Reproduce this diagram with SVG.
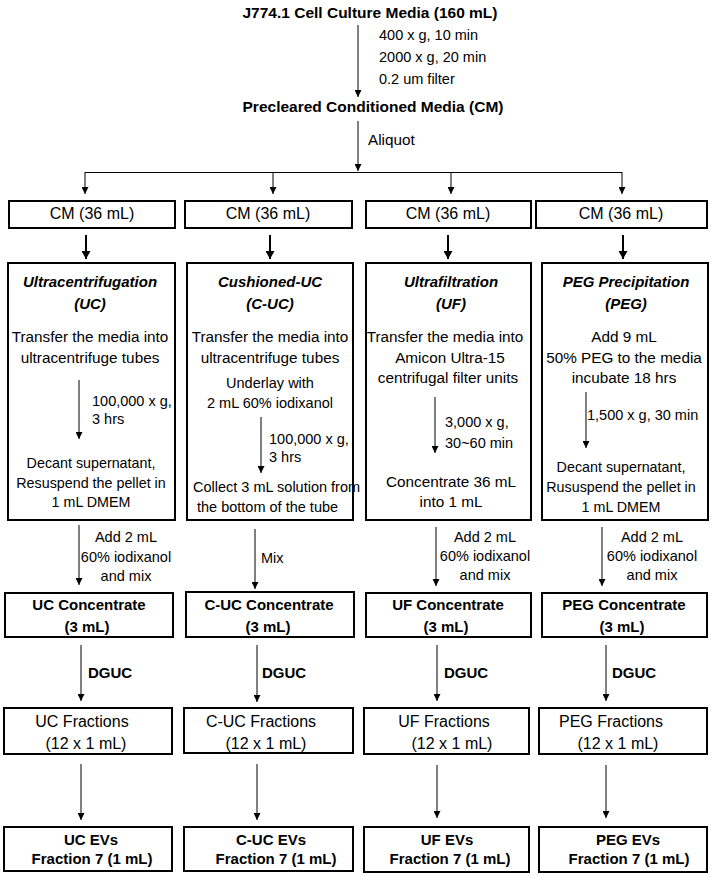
<svg xmlns="http://www.w3.org/2000/svg" width="714" height="875" viewBox="0 0 714 875">
<defs>
<marker id="ah" markerUnits="userSpaceOnUse" markerWidth="8" markerHeight="7" refX="7" refY="3.5" orient="auto"><path d="M0,0 L7,3.5 L0,7 z" fill="#000"/></marker>
<marker id="ahb" markerUnits="userSpaceOnUse" markerWidth="9" markerHeight="9" refX="8" refY="4.5" orient="auto"><path d="M0,0 L8,4.5 L0,9 z" fill="#000"/></marker>
<style>
text{font-family:"Liberation Sans",Arial,sans-serif;fill:#000}
.b{font-weight:bold}
.bi{font-weight:bold;font-style:italic;font-size:15px}
.t{font-size:14.5px}
.p{font-size:15.3px}
.s{font-size:14.3px}
.c{text-anchor:middle}
.box{fill:#fff;stroke:#000;stroke-width:2}
.ln{stroke:#000;stroke-width:1;fill:none}
.ar{stroke:#000;stroke-width:1;fill:none;marker-end:url(#ah)}
.arb{stroke:#000;stroke-width:2;fill:none;marker-end:url(#ahb)}
</style>
</defs>
<rect width="714" height="875" fill="#fff"/>

<g id="start">
<text class="b c" font-size="15.5" x="370" y="18">J774.1 Cell Culture Media (160 mL)</text>
</g>
<g id="cm">
<text class="b c" font-size="15.5" x="373" y="112">Precleared Conditioned Media (CM)</text>
</g>

<g id="cm1"><rect class="box" x="9" y="201" width="166" height="27"/><text class="c" font-size="16" x="92" y="219">CM (36 mL)</text></g>
<g id="cm2"><rect class="box" x="185" y="201" width="167" height="27"/><text class="c" font-size="16" x="268" y="219">CM (36 mL)</text></g>
<g id="cm3"><rect class="box" x="366" y="201" width="165" height="27"/><text class="c" font-size="16" x="448" y="219">CM (36 mL)</text></g>
<g id="cm4"><rect class="box" x="536" y="201" width="171" height="27"/><text class="c" font-size="16" x="621" y="219">CM (36 mL)</text></g>

<g id="uc">
<rect class="box" x="8" y="263" width="167" height="257"/>
<text class="bi c" x="90" y="287">Ultracentrifugation</text>
<text class="bi c" x="90" y="309">(UC)</text>
<text class="p c" x="90" y="342">Transfer the media into</text>
<text class="p c" x="90" y="363">ultracentrifuge tubes</text>
<text class="t" x="92" y="406">100,000 x g,</text>
<text class="t" x="92" y="424">3 hrs</text>
<text class="s c" x="91" y="468">Decant supernatant,</text>
<text class="s c" x="91" y="488">Resuspend the pellet in</text>
<text class="s c" x="91" y="507">1 mL DMEM</text>
</g>

<g id="cuc">
<rect class="box" x="187" y="263" width="166" height="257"/>
<text class="bi c" x="270" y="287">Cushioned-UC</text>
<text class="bi c" x="270" y="309">(C-UC)</text>
<text class="p c" x="270" y="342">Transfer the media into</text>
<text class="p c" x="270" y="363">ultracentrifuge tubes</text>
<text class="t c" x="270" y="388">Underlay with</text>
<text class="t c" x="270" y="408">2 mL 60% iodixanol</text>
<text class="t" x="269" y="444">100,000 x g,</text>
<text class="t" x="269" y="462">3 hrs</text>
<text class="t" x="193" y="492">Collect 3 mL solution from</text>
<text class="t" x="197" y="512">the bottom of the tube</text>
</g>

<g id="uf">
<rect class="box" x="366" y="263" width="165" height="257"/>
<text class="bi c" x="451" y="287">Ultrafiltration</text>
<text class="bi c" x="451" y="309">(UF)</text>
<text class="p c" x="445" y="342">Transfer the media into</text>
<text class="p c" x="450" y="363">Amicon Ultra-15</text>
<text class="p c" x="448" y="383">centrifugal filter units</text>
<text class="t" x="445" y="427">3,000 x g,</text>
<text class="t" x="445" y="448">30~60 min</text>
<text class="p c" x="451" y="487">Concentrate 36 mL</text>
<text class="p c" x="451" y="507">into 1 mL</text>
</g>

<g id="peg">
<rect class="box" x="542" y="263" width="166" height="257"/>
<text class="bi c" x="626" y="287">PEG Precipitation</text>
<text class="bi c" x="626" y="309">(PEG)</text>
<text class="p c" x="624" y="342">Add 9 mL</text>
<text class="p c" x="624" y="363">50% PEG to the media</text>
<text class="p c" x="624" y="383">incubate 18 hrs</text>
<text class="t" x="587" y="420">1,500 x g, 30 min</text>
<text class="s c" x="621" y="472">Decant supernatant,</text>
<text class="s c" x="621" y="492">Rususpend the pellet in</text>
<text class="s c" x="621" y="512">1 mL DMEM</text>
</g>

<g id="ucc"><rect class="box" x="5" y="593" width="168" height="44"/><text class="b c" font-size="15" x="89" y="610">UC Concentrate</text><text class="b c" font-size="15" x="87" y="632">(3 mL)</text></g>
<g id="cucc"><rect class="box" x="186" y="592" width="168" height="45"/><text class="b c" font-size="15" x="269" y="610">C-UC Concentrate</text><text class="b c" font-size="15" x="268" y="632">(3 mL)</text></g>
<g id="ufc"><rect class="box" x="366" y="593" width="165" height="44"/><text class="b c" font-size="15" x="448" y="610">UF Concentrate</text><text class="b c" font-size="15" x="446" y="632">(3 mL)</text></g>
<g id="pegc"><rect class="box" x="542" y="593" width="165" height="44"/><text class="b c" font-size="15" x="624" y="610">PEG Concentrate</text><text class="b c" font-size="15" x="622" y="632">(3 mL)</text></g>

<g id="ucf"><rect class="box" x="4" y="708" width="168" height="46"/><text class="c" font-size="16" x="82" y="727">UC Fractions</text><text class="c" font-size="16" x="86" y="749">(12 x 1 mL)</text></g>
<g id="cucf"><rect class="box" x="184" y="708" width="169" height="45"/><text class="c" font-size="16" x="261" y="727">C-UC Fractions</text><text class="c" font-size="16" x="266" y="749">(12 x 1 mL)</text></g>
<g id="uff"><rect class="box" x="364" y="708" width="165" height="46"/><text class="c" font-size="16" x="444" y="727">UF Fractions</text><text class="c" font-size="16" x="452" y="749">(12 x 1 mL)</text></g>
<g id="pegf"><rect class="box" x="539" y="708" width="168" height="46"/><text class="c" font-size="16" x="611" y="727">PEG Fractions</text><text class="c" font-size="16" x="618" y="749">(12 x 1 mL)</text></g>

<g id="ucev"><rect class="box" x="4" y="827" width="168" height="44"/><text class="b c" font-size="15" x="91" y="845">UC EVs</text><text class="b c" font-size="15" x="92" y="864">Fraction 7 (1 mL)</text></g>
<g id="cucev"><rect class="box" x="184" y="827" width="169" height="44"/><text class="b c" font-size="15" x="271" y="845">C-UC EVs</text><text class="b c" font-size="15" x="276" y="864">Fraction 7 (1 mL)</text></g>
<g id="ufev"><rect class="box" x="364" y="827" width="165" height="45"/><text class="b c" font-size="15" x="447" y="845">UF EVs</text><text class="b c" font-size="15" x="450" y="864">Fraction 7 (1 mL)</text></g>
<g id="pegev"><rect class="box" x="539" y="827" width="168" height="45"/><text class="b c" font-size="15" x="628" y="845">PEG EVs</text><text class="b c" font-size="15" x="629" y="864">Fraction 7 (1 mL)</text></g>

<g id="connectors">
<line class="ar" x1="358" y1="25" x2="358" y2="97"/>
<line class="ar" x1="358" y1="121" x2="358" y2="171"/>
<line class="ln" x1="85" y1="172.5" x2="622" y2="172.5"/>
<line class="ar" x1="85" y1="172" x2="85" y2="194"/>
<line class="ar" x1="273" y1="172" x2="273" y2="194"/>
<line class="ar" x1="451" y1="172" x2="451" y2="194"/>
<line class="ar" x1="622" y1="172" x2="622" y2="194"/>
<line class="arb" x1="86" y1="235" x2="86" y2="259"/>
<line class="arb" x1="270" y1="235" x2="270" y2="259"/>
<line class="arb" x1="448" y1="235" x2="448" y2="259"/>
<line class="arb" x1="623" y1="235" x2="623" y2="259"/>
<line class="ar" x1="79" y1="380" x2="79" y2="439"/>
<line class="ar" x1="261" y1="417" x2="261" y2="473"/>
<line class="ar" x1="435" y1="397" x2="435" y2="453"/>
<line class="ar" x1="586" y1="392" x2="586" y2="448"/>
<line class="ar" x1="79" y1="525" x2="79" y2="585"/>
<line class="ar" x1="255" y1="529" x2="255" y2="589"/>
<line class="ar" x1="436" y1="527" x2="436" y2="586"/>
<line class="ar" x1="602" y1="527" x2="602" y2="586"/>
<line class="ar" x1="81" y1="645" x2="81" y2="701"/>
<line class="ar" x1="257" y1="645" x2="257" y2="702"/>
<line class="ar" x1="437" y1="645" x2="437" y2="701"/>
<line class="ar" x1="606" y1="645" x2="606" y2="701"/>
<line class="ar" x1="81" y1="764" x2="81" y2="820"/>
<line class="ar" x1="257" y1="764" x2="257" y2="820"/>
<line class="ar" x1="437" y1="765" x2="437" y2="818"/>
<line class="ar" x1="606" y1="765" x2="606" y2="818"/>
</g>

<g id="labels">
<text class="t" x="379" y="40">400 x g, 10 min</text>
<text class="t" x="379" y="62">2000 x g, 20 min</text>
<text class="t" x="379" y="84">0.2 um filter</text>
<text class="p" x="368" y="145">Aliquot</text>
<text class="t c" x="126" y="542">Add 2 mL</text>
<text class="t c" x="126" y="562">60% iodixanol</text>
<text class="t c" x="126" y="581">and mix</text>
<text class="t" x="261" y="563">Mix</text>
<text class="t c" x="485" y="542">Add 2 mL</text>
<text class="t c" x="485" y="561">60% iodixanol</text>
<text class="t c" x="485" y="580">and mix</text>
<text class="t c" x="652" y="542">Add 2 mL</text>
<text class="t c" x="652" y="561">60% iodixanol</text>
<text class="t c" x="652" y="580">and mix</text>
<text class="b" font-size="15" x="88" y="678">DGUC</text>
<text class="b" font-size="15" x="262" y="678">DGUC</text>
<text class="b" font-size="15" x="444" y="678">DGUC</text>
<text class="b" font-size="15" x="612" y="678">DGUC</text>
</g>
</svg>
